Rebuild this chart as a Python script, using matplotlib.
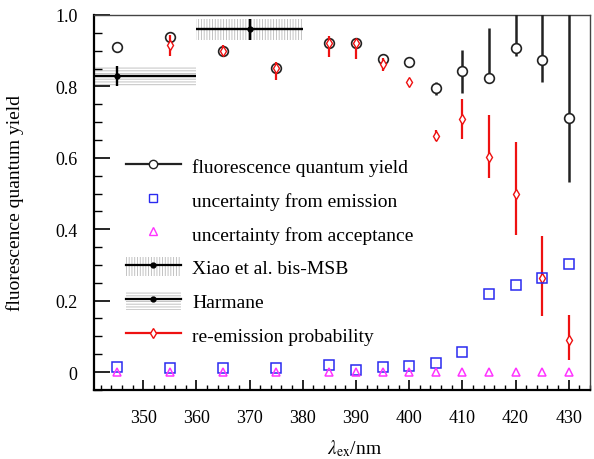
import matplotlib
matplotlib.use('Agg')
import matplotlib.pyplot as plt
from matplotlib.lines import Line2D
from matplotlib.patches import Patch, Rectangle
from matplotlib.ticker import MultipleLocator, FixedLocator
from matplotlib.legend_handler import HandlerTuple

plt.rcParams['font.family'] = ['Liberation Serif', 'DejaVu Serif']
plt.rcParams['mathtext.fontset'] = 'stix'
plt.rcParams['hatch.linewidth'] = 0.6

# ---------------- data ----------------
wavelength = [345, 355, 365, 375, 385, 390, 395, 400, 405, 410, 415, 420, 425, 430]
fqy = [0.911, 0.939, 0.900, 0.852, 0.921, 0.922, 0.878, 0.868, 0.795, 0.842, 0.823, 0.907, 0.875, 0.712]
fqy_err_lo = [0.012, 0.010, 0.010, 0.010, 0.010, 0.010, 0.010, 0.010, 0.018, 0.060, 0.000, 0.022, 0.062, 0.180]
fqy_err_hi = [0.012, 0.010, 0.010, 0.010, 0.010, 0.010, 0.010, 0.010, 0.018, 0.060, 0.140, 0.120, 0.150, 0.300]

emission_unc = [0.013, 0.011, 0.012, 0.012, 0.020, 0.005, 0.015, 0.016, 0.025, 0.057, 0.218, 0.244, 0.262, 0.302]
acceptance_unc = [0.0, 0.0, 0.0, 0.0, 0.0, 0.0, 0.0, 0.0, 0.0, 0.0, 0.0, 0.0, 0.0, 0.0]

reem_wl = [355, 365, 375, 385, 390, 395, 400, 405, 410, 415, 420, 425, 430]
reem = [0.916, 0.900, 0.852, 0.921, 0.922, 0.864, 0.812, 0.662, 0.709, 0.603, 0.499, 0.262, 0.090]
reem_err_lo = [0.030, 0.015, 0.034, 0.040, 0.044, 0.022, 0.008, 0.016, 0.056, 0.060, 0.115, 0.106, 0.056]
reem_err_hi = [0.028, 0.015, 0.015, 0.020, 0.010, 0.016, 0.008, 0.016, 0.056, 0.118, 0.144, 0.118, 0.070]

xiao_x, xiao_xerr, xiao_y, xiao_yerr = 370, 10, 0.960, 0.030
harm_x, harm_xerr, harm_y, harm_yerr = 345, 15, 0.829, 0.029

x_ticks = [350, 360, 370, 380, 390, 400, 410, 420, 430]
y_ticks = [0.0, 0.2, 0.4, 0.6, 0.8, 1.0]
y_ticklabels = ['0', '0.2', '0.4', '0.6', '0.8', '1.0']

labels = ['fluorescence quantum yield', 'uncertainty from emission',
          'uncertainty from acceptance', 'Xiao et al. bis-MSB', 'Harmane',
          're-emission probability']

BLUE = '#2a2af0'
MAG = '#ff33ff'
RED = '#ee1111'
HATCH = '#b8b8b8'

fig = plt.figure(figsize=(5.94, 4.60), dpi=100)
ax = fig.add_axes([94/594, 1-391/460, (590-94)/594, (391-16)/460])
ax.set_xlim(340.75, 434.0)
ax.set_ylim(-0.0504, 1.0)

# hatched boxes
ax.add_patch(Rectangle((xiao_x - xiao_xerr, xiao_y - xiao_yerr), 2*xiao_xerr, 2*xiao_yerr,
                       facecolor='none', edgecolor=HATCH, hatch='||||||', linewidth=0, zorder=1))
ax.add_patch(Rectangle((harm_x - harm_xerr, harm_y - harm_yerr), 2*harm_xerr, 2*harm_yerr,
                       facecolor='none', edgecolor=HATCH, hatch='------', linewidth=0, zorder=1))

ax.errorbar([xiao_x], [xiao_y], xerr=[xiao_xerr], yerr=[xiao_yerr], fmt='o', color='black',
            ms=3.5, elinewidth=1.7, capsize=0, zorder=3)
ax.errorbar([harm_x], [harm_y], xerr=[harm_xerr], yerr=[harm_yerr], fmt='o', color='black',
            ms=3.5, elinewidth=1.7, capsize=0, zorder=3)

ax.errorbar(wavelength, fqy, yerr=[fqy_err_lo, fqy_err_hi], fmt='o', color='#222222',
            mfc='white', mec='#222222', mew=1.2, ms=7, elinewidth=1.8, capsize=0, zorder=4)
ax.errorbar(reem_wl, reem, yerr=[reem_err_lo, reem_err_hi], fmt='d', color=RED,
            mfc='white', mec=RED, mew=1.0, ms=5.5, elinewidth=1.6, capsize=0, zorder=5)
ax.plot(wavelength, emission_unc, 's', ms=6.5, mfc='none', mec=BLUE, mew=1.1, zorder=6)
ax.plot(wavelength, acceptance_unc, '^', ms=6, mfc='none', mec=MAG, mew=1.1, zorder=7)

# axes styling
ax.xaxis.set_major_locator(FixedLocator(x_ticks))
ax.xaxis.set_minor_locator(MultipleLocator(2))
ax.yaxis.set_major_locator(FixedLocator(y_ticks))
ax.set_yticklabels(y_ticklabels)
ax.yaxis.set_minor_locator(MultipleLocator(0.05))
ax.tick_params(axis='x', which='major', direction='in', length=7.5, width=1.2, pad=14, labelsize=13)
ax.tick_params(axis='x', which='minor', direction='in', length=3.8, width=1.0)
ax.tick_params(axis='y', which='major', direction='in', length=11.5, width=1.2, pad=12, labelsize=13)
ax.tick_params(axis='y', which='minor', direction='in', length=5.8, width=1.0)
for s in ['left', 'bottom']:
    ax.spines[s].set_linewidth(1.6)
    ax.spines[s].set_color('black')
for s in ['top', 'right']:
    ax.spines[s].set_linewidth(1.0)
    ax.spines[s].set_color('#444444')

ax.set_ylabel('fluorescence quantum yield', fontsize=14)
ax.yaxis.set_label_coords(-0.142, 0.5)
ax.set_xlabel(r'$\lambda_{\rm ex}$/nm', fontsize=14)
ax.xaxis.set_label_coords(0.525, -0.125)

# legend
h_fqy = Line2D([], [], color='#222222', lw=1.6, marker='o', mfc='white', mec='#222222', ms=6)
h_em = Line2D([], [], ls='none', marker='s', mfc='none', mec=BLUE, ms=6)
h_ac = Line2D([], [], ls='none', marker='^', mfc='none', mec=MAG, ms=6)
h_xiao = (Patch(facecolor='none', edgecolor=HATCH, hatch='||||||', linewidth=0),
          Line2D([], [], color='black', lw=1.6, marker='o', ms=3.5))
h_harm = (Patch(facecolor='none', edgecolor=HATCH, hatch='------', linewidth=0),
          Line2D([], [], color='black', lw=1.6, marker='o', ms=3.5))
h_re = Line2D([], [], color=RED, lw=1.6, marker='d', mfc='white', mec=RED, ms=5)

leg = ax.legend([h_fqy, h_em, h_ac, h_xiao, h_harm, h_re], labels,
                handler_map={tuple: HandlerTuple(ndivide=1)},
                loc='upper left', bbox_to_anchor=(0.065, 0.625), frameon=False,
                fontsize=14, handlelength=2.8, handleheight=1.15, labelspacing=0.7,
                handletextpad=0.6, borderpad=0, borderaxespad=0, numpoints=1)

fig.savefig('out.png', dpi=100)
